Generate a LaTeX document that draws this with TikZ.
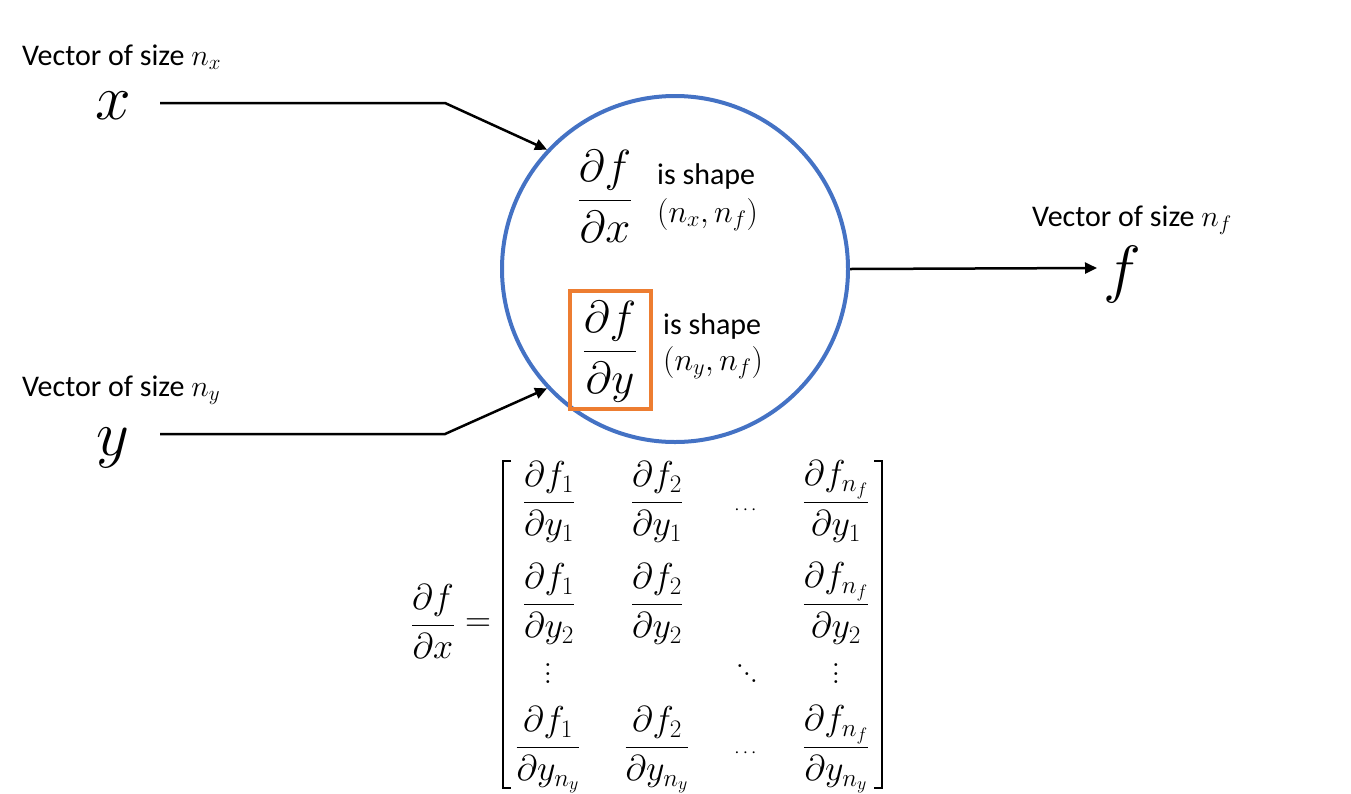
\RequirePackage{fix-cm}
\documentclass[tikz,border=0pt]{standalone}
\usepackage[no-math]{fontspec}
\setmainfont{Carlito}
\usepackage{amsmath}
\usetikzlibrary{arrows.meta}
\definecolor{cblue}{HTML}{4472C4}
\definecolor{corange}{HTML}{ED7D31}
\newcommand{\myvdots}{\vbox{\baselineskip=8.5pt \lineskiplimit=0pt \hbox{$.$}\hbox{$.$}\hbox{$.$}}}
\newcommand{\myddots}{\mbox{\raisebox{15pt}{$.$}\kern-1.2pt\raisebox{7.5pt}{$.$}\kern-1.2pt$.$}}
\begin{document}
\begin{tikzpicture}[x=1pt,y=-1pt,
  lbl/.style={font=\fontsize{30}{35}\selectfont, inner sep=0pt, anchor=base west},
  tup/.style={font=\fontsize{32}{36}\selectfont, inner sep=0pt, anchor=base west},
  big/.style={font=\fontsize{64}{70}\selectfont, inner sep=0pt, anchor=base},
  cfrac/.style={font=\fontsize{45}{50}\selectfont, inner sep=0pt, anchor=base},
  mfrac/.style={font=\fontsize{36}{40}\selectfont, inner sep=0pt, anchor=base},
  mdots/.style={font=\fontsize{30}{34}\selectfont, inner sep=0pt},
  hdots/.style={font=\fontsize{19}{22}\selectfont, inner sep=0pt},
  conn/.style={line width=2.5pt, black, line join=miter},
  arr/.style={conn, -{Triangle[length=12pt,width=11pt]}},
  brk/.style={line width=2.5pt, black, line join=miter}
]
\useasboundingbox (0,0) rectangle (1351,793);

% labels and variables
\node[lbl] (lx) at (22,65) {Vector of size $n_x$};
\node[big] (x) at (113,119) {$x$};
\node[lbl] (ly) at (22,396) {Vector of size $n_y$};
\node[big] (y) at (113,455) {$y$};
\node[lbl] (lf) at (1032,226) {Vector of size $n_f$};
\node[big] (f) at (1122,290) {$f$};

% circle
\node[draw=cblue, line width=4pt, circle, minimum size=346pt, inner sep=0pt] (c) at (675,269) {};

\node[cfrac] (dfdx) at (605,212) {$\dfrac{\partial f}{\partial x}$};
\node[lbl] (s1) at (657,184) {is shape};
\node[tup] (t1) at (657,222) {$(n_x, n_f)$};

\node[draw=corange, line width=4pt, minimum width=81pt, minimum height=118pt, inner sep=0pt] (ob) at (610.5,350) {};
\node[cfrac] (dfdy) at (610,363) {$\dfrac{\partial f}{\partial y}$};
\node[lbl] (s2) at (663,334) {is shape};
\node[tup] (t2) at (663,370) {$(n_y, n_f)$};

% connectors
\coordinate (xs) at (160,103);
\coordinate (xb) at (445,103);
\coordinate (ys) at (160,434);
\coordinate (yb) at (445,434);
\coordinate (ftip) at (1097,268);
\draw[arr] (xs) -- (xb) -- (c.137);
\draw[arr] (ys) -- (yb) -- (c.223);
\draw[arr] (c.east) -- (ftip);

% jacobian
\node[mfrac] (lhs) at (433,634) {$\dfrac{\partial f}{\partial x}$};
\node[font=\fontsize{36}{40}\selectfont, inner sep=0pt] (eq) at (478,625) {$=$};

\node[mfrac] (m11) at (549,511) {$\dfrac{\partial f_1}{\partial y_1}$};
\node[mfrac] (m12) at (657,511) {$\dfrac{\partial f_2}{\partial y_1}$};
\node[hdots] (m13) at (747,510) {$\cdots$};
\node[mfrac] (m14) at (836,511) {$\dfrac{\partial f_{n_f}}{\partial y_1}$};

\node[mfrac] (m21) at (549,613) {$\dfrac{\partial f_1}{\partial y_2}$};
\node[mfrac] (m22) at (657,613) {$\dfrac{\partial f_2}{\partial y_2}$};
\node[mfrac] (m24) at (836,613) {$\dfrac{\partial f_{n_f}}{\partial y_2}$};

\node[mdots] (m31) at (548,674) {\myvdots};
\node[mdots] (m33) at (747,674) {\myddots};
\node[mdots] (m34) at (836,674) {\myvdots};

\node[mfrac] (m41) at (548,756) {$\dfrac{\partial f_1}{\partial y_{n_y}}$};
\node[mfrac] (m42) at (657,756) {$\dfrac{\partial f_2}{\partial y_{n_y}}$};
\node[hdots] (m43) at (747,753) {$\cdots$};
\node[mfrac] (m44) at (836,756) {$\dfrac{\partial f_{n_f}}{\partial y_{n_y}}$};

\draw[brk] (511,461) -- (503,461) -- (503,788) -- (511,788);
\draw[brk] (874,461) -- (882,461) -- (882,788) -- (874,788);
\end{tikzpicture}
\end{document}
